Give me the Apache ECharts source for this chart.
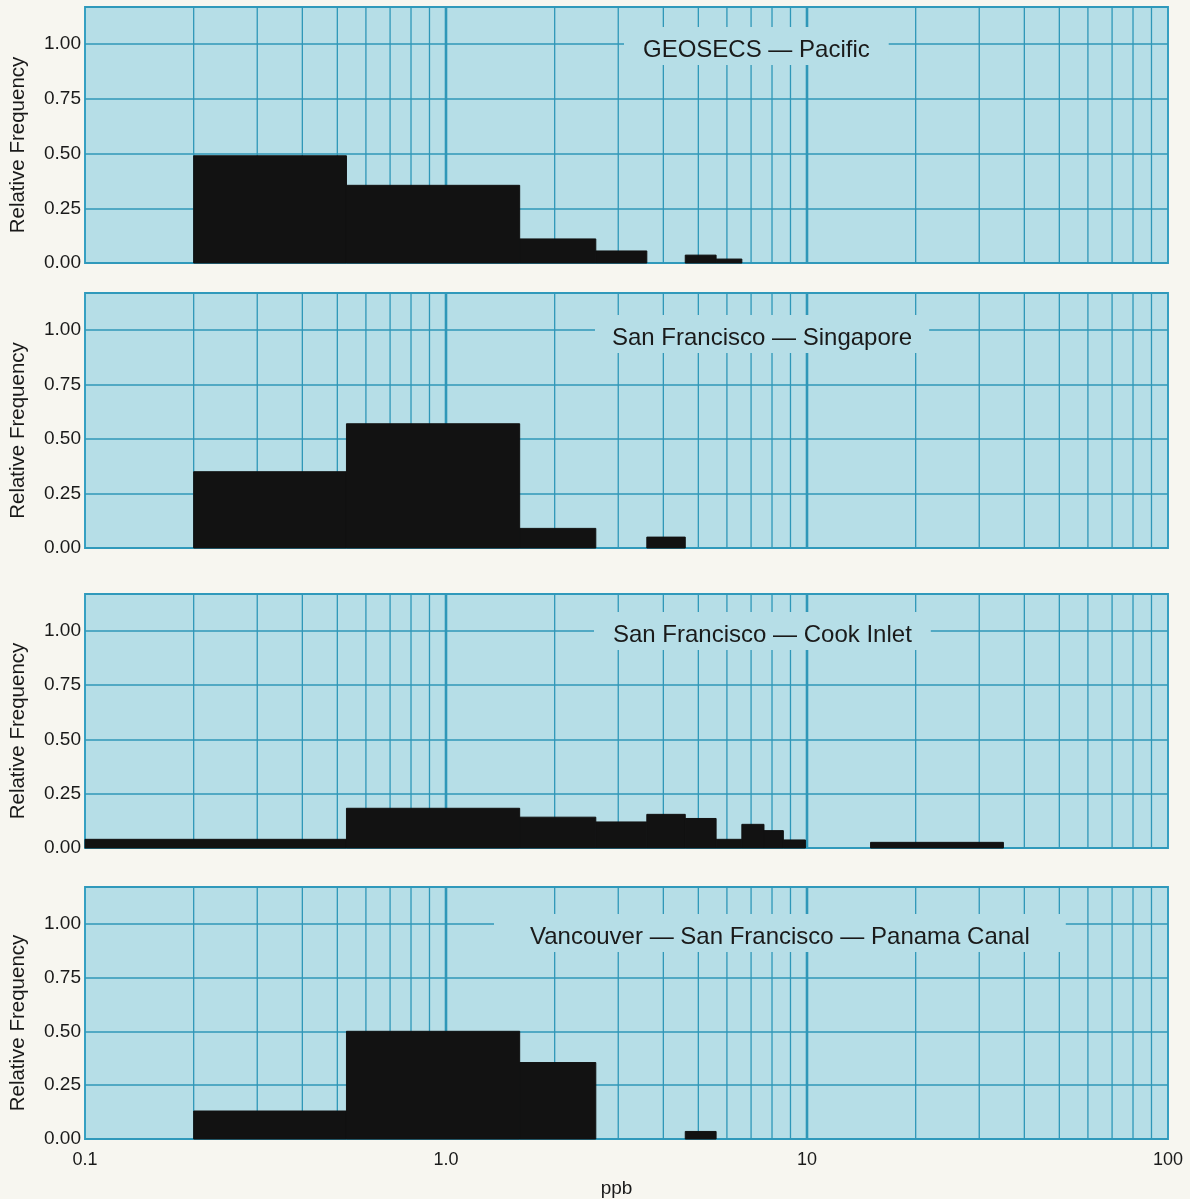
<!DOCTYPE html>
<html>
<head>
<meta charset="utf-8">
<script src="https://cdn.jsdelivr.net/npm/echarts@6/dist/echarts.min.js"></script>
<style>
html,body{margin:0;padding:0;background:#f7f6f0;}
#chart{width:1190px;height:1199px;}
</style>
</head>
<body>
<div id="chart"></div>
<script>
// ---- data ----
const panelTitles = [
  'GEOSECS — Pacific',
  'San Francisco — Singapore',
  'San Francisco — Cook Inlet',
  'Vancouver — San Francisco — Panama Canal'
];
// bin lower edges (ppb), upper edges (ppb), relative frequency
const pacificLo   = [0.2, 0.53, 1.6, 2.6, 4.6, 5.6];
const pacificHi   = [0.53, 1.6, 2.6, 3.6, 5.6, 6.6];
const pacificFreq = [0.49, 0.355, 0.11, 0.055, 0.036, 0.018];

const singaporeLo   = [0.2, 0.53, 1.6, 3.6];
const singaporeHi   = [0.53, 1.6, 2.6, 4.6];
const singaporeFreq = [0.35, 0.57, 0.09, 0.05];

const cookLo   = [0.1, 0.53, 1.6, 2.6, 3.6, 4.6, 5.6, 6.6, 7.6, 8.6, 15];
const cookHi   = [0.53, 1.6, 2.6, 3.6, 4.6, 5.6, 6.6, 7.6, 8.6, 9.9, 35];
const cookFreq = [0.04, 0.183, 0.142, 0.12, 0.155, 0.136, 0.04, 0.109, 0.08, 0.037, 0.026];

const panamaLo   = [0.2, 0.53, 1.6, 4.6];
const panamaHi   = [0.53, 1.6, 2.6, 5.6];
const panamaFreq = [0.13, 0.50, 0.355, 0.035];

const yTickLabels = ['0.00', '0.25', '0.50', '0.75', '1.00'];
const xTickLabels = ['0.1', '1.0', '10', '100'];
const minorGridValues = [0.2,0.3,0.4,0.5,0.6,0.7,0.8,0.9,2,3,4,5,6,7,8,9,20,30,40,50,60,70,80,90];
const majorGridValues = [1, 10];

const panels = [
  [pacificLo, pacificHi, pacificFreq],
  [singaporeLo, singaporeHi, singaporeFreq],
  [cookLo, cookHi, cookFreq],
  [panamaLo, panamaHi, panamaFreq]
];

// ---- layout / style ----
const FONT = '"Liberation Sans", Arial, Helvetica, sans-serif';
const TXT = '#1a1a1a';
const PLOT_BG = '#b6dee7';
const LINE = '#2f97b8';
const BORDER = '#36a0c2';
const YMAX = 1.17;
const gridTops = [7, 293, 594, 887];
const gridHeights = [256, 255, 254, 253];
const titleBoxLeft = [624, 595, 594, 494];
const titleCenterY = [50, 338, 635, 937];
const titlePadX = [19, 17, 19, 36];
const TITLE_FS = 24;

const chart = echarts.init(document.getElementById('chart'), null, {renderer: 'canvas'});

const grid = [], xAxis = [], yAxis = [], series = [], title = [];

function vline(width) {
  return function (params, api) {
    const p0 = api.coord([api.value(0), 0]);
    const p1 = api.coord([api.value(0), YMAX]);
    return {type: 'line', shape: {x1: p0[0], y1: p0[1], x2: p1[0], y2: p1[1]},
      style: {stroke: LINE, lineWidth: width}};
  };
}

panels.forEach((pd, i) => {
  const last = i === panels.length - 1;
  grid.push({left: 84, width: 1084, top: gridTops[i], height: gridHeights[i],
    show: true, backgroundColor: PLOT_BG, borderColor: BORDER, borderWidth: 2});
  xAxis.push({
    type: 'log', logBase: 10, min: 0.1, max: 100, gridIndex: i,
    axisLine: {show: false}, axisTick: {show: false},
    splitLine: {show: false},
    axisLabel: {show: last, fontFamily: FONT, fontSize: 18, color: TXT, margin: 12,
      formatter: v => xTickLabels[Math.round(Math.log10(v)) + 1]},
    name: last ? 'ppb' : '', nameLocation: 'middle', nameGap: 40,
    nameTextStyle: {fontFamily: FONT, fontSize: 19, color: TXT, padding: [0, 20, 0, 0]}
  });
  yAxis.push({
    type: 'value', min: 0, max: YMAX, interval: 0.25, gridIndex: i,
    axisLine: {show: false}, axisTick: {show: false},
    splitLine: {show: true, lineStyle: {color: LINE, width: 1.5}},
    axisLabel: {fontFamily: FONT, fontSize: 19, color: TXT, margin: 4, showMaxLabel: false,
      formatter: v => yTickLabels[Math.round(v / 0.25)] || ''},
    name: 'Relative Frequency', nameLocation: 'middle', nameRotate: 90, nameGap: 56,
    nameTextStyle: {fontFamily: FONT, fontSize: 20.5, color: TXT, padding: [0, 20, 0, 0]}
  });
  series.push({
    type: 'custom', xAxisIndex: i, yAxisIndex: i, z: 1, silent: true,
    data: minorGridValues.map(v => [v, 0]), encode: {x: 0, y: 1},
    renderItem: vline(1.3)
  });
  series.push({
    type: 'custom', xAxisIndex: i, yAxisIndex: i, z: 1, silent: true,
    data: majorGridValues.map(v => [v, 0]), encode: {x: 0, y: 1},
    renderItem: vline(2.6)
  });
  const [lo, hi, fr] = pd;
  series.push({
    type: 'custom', xAxisIndex: i, yAxisIndex: i, z: 3,
    data: lo.map((l, k) => [l, hi[k], fr[k]]),
    encode: {x: [0, 1], y: 2},
    renderItem: function (params, api) {
      const a = api.coord([api.value(0), api.value(2)]);
      const b = api.coord([api.value(1), 0]);
      return {type: 'rect', shape: {x: a[0], y: a[1], width: b[0] - a[0], height: b[1] - a[1]},
        style: {fill: '#121212', stroke: '#121212', lineWidth: 1}};
    }
  });
  title.push({
    text: panelTitles[i], left: titleBoxLeft[i], top: titleCenterY[i] - TITLE_FS / 2 - 11,
    padding: [11, titlePadX[i], 3, titlePadX[i]], backgroundColor: PLOT_BG,
    textStyle: {fontFamily: FONT, fontSize: TITLE_FS, fontWeight: 'normal', color: TXT}
  });
});

chart.setOption({
  backgroundColor: '#f7f6f0',
  animation: false,
  title, grid, xAxis, yAxis, series
});
</script>
</body>
</html>
